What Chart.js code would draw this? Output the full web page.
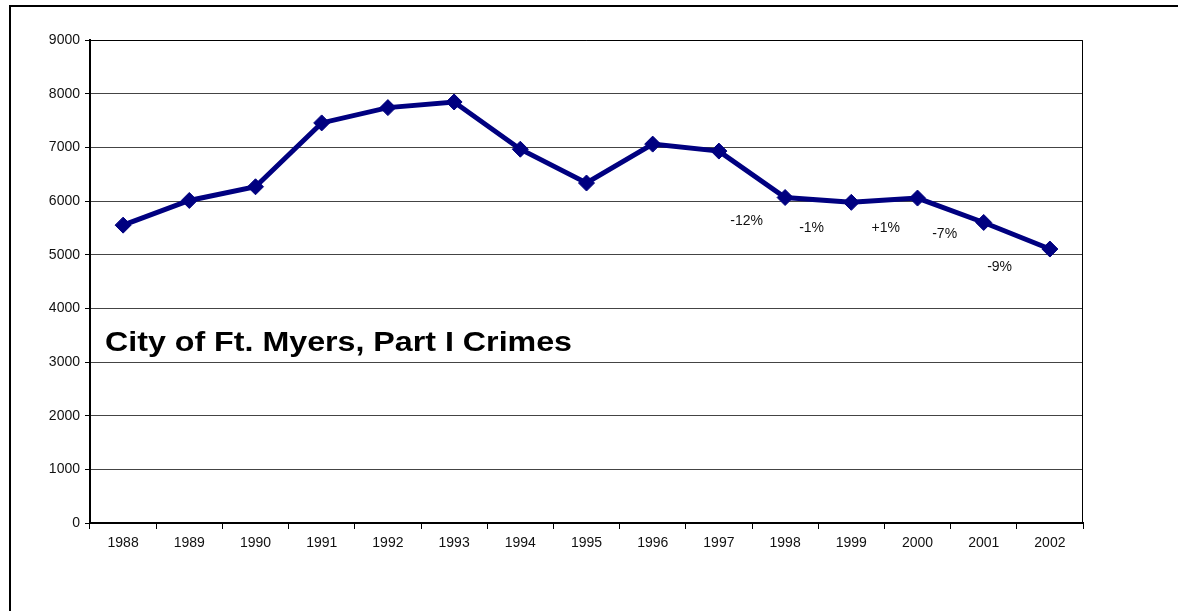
<!DOCTYPE html>
<html>
<head>
<meta charset="utf-8">
<script src="https://cdn.jsdelivr.net/npm/chart.js@4/dist/chart.umd.min.js"></script>
<style>
  html, body { margin: 0; padding: 0; background: #fff; }
  #wrap { position: relative; width: 1178px; height: 611px; }
</style>
</head>
<body>
<div id="wrap"><canvas id="c" width="1178" height="611"></canvas></div>
<script>
const years = ['1988','1989','1990','1991','1992','1993','1994','1995','1996','1997','1998','1999','2000','2001','2002'];
const crimes = [5550, 6010, 6265, 7455, 7740, 7845, 6965, 6335, 7060, 6930, 6065, 5975, 6055, 5600, 5105];
const changeLabels = ['-12%', '-1%', '+1%', '-7%', '-9%'];
const chartTitle = 'City of Ft. Myers, Part I Crimes';
const yMin = 0, yMax = 9000, yStep = 1000;

// where the change labels sit (category index, y value)
const changeAnchors = [[9.42, 5630], [10.40, 5500], [11.52, 5500], [12.41, 5385], [13.24, 4770]];

const decor = {
  id: 'decor',
  beforeDraw(chart) {
    const ctx = chart.ctx;
    ctx.save();
    ctx.fillStyle = '#fff';
    ctx.fillRect(0, 0, chart.width, chart.height);
    // outer frame (cropped on right / bottom)
    ctx.strokeStyle = '#000';
    ctx.lineWidth = 2;
    ctx.beginPath();
    ctx.moveTo(10, chart.height + 5);
    ctx.lineTo(10, 6);
    ctx.lineTo(chart.width + 5, 6);
    ctx.stroke();
    ctx.restore();
  },
  afterDatasetsDraw(chart) {
    const ctx = chart.ctx;
    const a = chart.chartArea;
    const xs = chart.scales.x, ys = chart.scales.y;
    ctx.save();
    // plot frame top/right
    ctx.strokeStyle = '#000';
    ctx.lineWidth = 1;
    ctx.beginPath();
    ctx.moveTo(Math.round(a.left) + 0.5, Math.round(a.top) + 0.5);
    ctx.lineTo(Math.round(a.right) - 0.5, Math.round(a.top) + 0.5);
    ctx.lineTo(Math.round(a.right) - 0.5, Math.round(a.bottom));
    ctx.stroke();
    // title (slightly wide face, like the original)
    ctx.save();
    ctx.translate(a.left + 15, ys.getPixelForValue(3205));
    ctx.scale(1.15, 1);
    ctx.fillStyle = '#000';
    ctx.font = 'bold 28px "Liberation Sans", Arial, sans-serif';
    ctx.textAlign = 'left';
    ctx.textBaseline = 'alphabetic';
    ctx.fillText(chartTitle, 0, 0);
    ctx.restore();
    // change labels
    ctx.font = '14px "Liberation Sans", Arial, sans-serif';
    ctx.fillStyle = '#111';
    ctx.textAlign = 'center';
    ctx.textBaseline = 'middle';
    changeLabels.forEach((t, i) => {
      const [ix, v] = changeAnchors[i];
      ctx.fillText(t, xs.getPixelForValue(ix), ys.getPixelForValue(v));
    });
    ctx.restore();
  }
};

new Chart(document.getElementById('c'), {
  type: 'line',
  data: {
    labels: years,
    datasets: [{
      data: crimes,
      borderColor: '#000080',
      backgroundColor: '#000080',
      borderWidth: 5,
      pointStyle: 'rectRot',
      pointRadius: 8,
      pointBorderWidth: 1,
      pointBackgroundColor: '#000080',
      pointBorderColor: '#000080',
      tension: 0,
      fill: false
    }]
  },
  options: {
    responsive: false,
    animation: false,
    events: [],
    layout: { padding: { left: 0, top: 40, right: 95, bottom: 0 } },
    plugins: { legend: { display: false }, title: { display: false }, tooltip: { enabled: false } },
    scales: {
      x: {
        type: 'category',
        offset: true,
        grid: { display: true, offset: true, drawOnChartArea: false, drawTicks: true, tickLength: 6, color: '#000', lineWidth: 1 },
        border: { display: true, color: '#000', width: 2 },
        ticks: { color: '#111', font: { size: 14, family: '"Liberation Sans", Arial, sans-serif' }, padding: 6, maxRotation: 0, autoSkip: false },
        afterFit(s) { s.height = 88; }
      },
      y: {
        min: yMin, max: yMax,
        grid: { color: '#444', lineWidth: 1, drawTicks: true, tickLength: 5, tickColor: '#000' },
        border: { display: true, color: '#000', width: 2 },
        ticks: { stepSize: yStep, color: '#111', font: { size: 14, family: '"Liberation Sans", Arial, sans-serif' }, padding: 5, callback: v => String(v) },
        afterFit(s) { s.width = 90; }
      }
    }
  },
  plugins: [decor]
});
</script>
</body>
</html>
